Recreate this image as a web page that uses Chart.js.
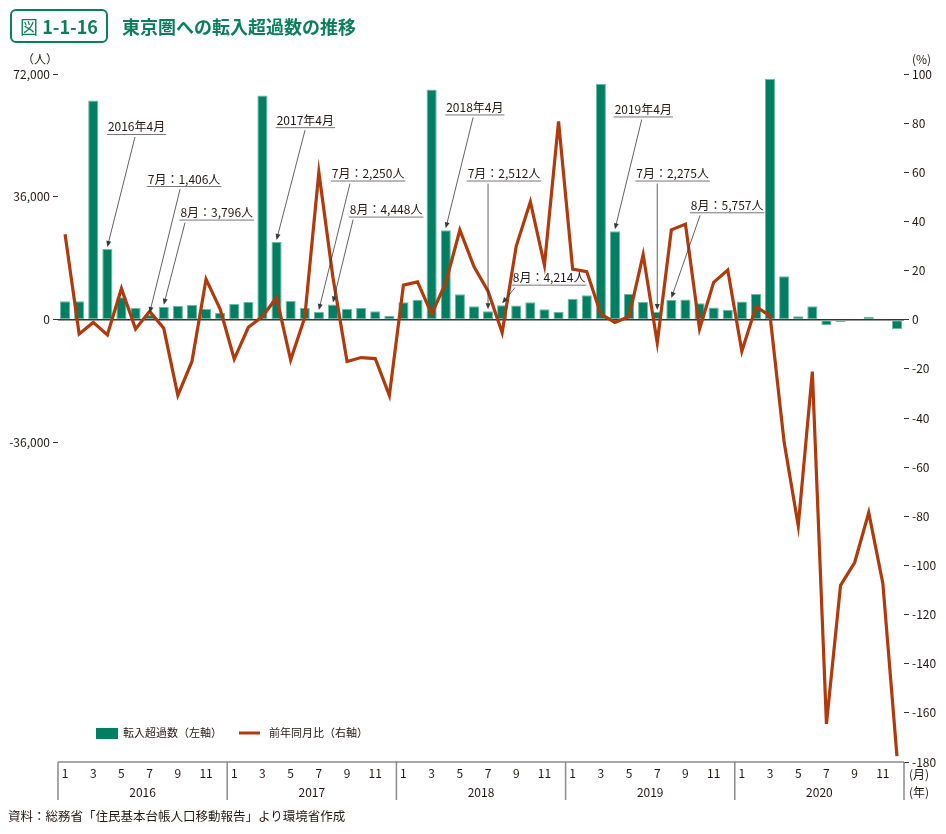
<!DOCTYPE html>
<html lang="ja">
<head>
<meta charset="utf-8">
<script src="https://cdn.jsdelivr.net/npm/chart.js@4.4.1/dist/chart.umd.min.js"></script>
<style>
	body { margin: 0; background: #fff; font-family: 'Noto Sans CJK JP', 'Noto Sans', sans-serif; }
	#wrap { position: relative; width: 946px; height: 834px; }
	#chart { position: absolute; left: 0; top: 0; }
	.figno {
		position: absolute; left: 10px; top: 9px; width: 94px; height: 30px;
		border: 2px solid #0b7f5c; border-radius: 6px; color: #0b7f5c;
		font-size: 18px; font-weight: bold; line-height: 30px; text-align: center;
	}
	.figno span { font-weight: normal; }
	.title {
		position: absolute; left: 122px; top: 11px; color: #0b7f5c;
		font-size: 18px; font-weight: bold; line-height: 30px;
	}
	.note { position: absolute; font-size: 12px; color: #231815; }
</style>
</head>
<body>
<div id="wrap">
	<canvas id="chart" width="946" height="834"></canvas>
	<div class="figno"><span>図</span> 1-1-16</div>
	<div class="title">東京圏への転入超過数の推移</div>
	<div class="note" style="left:22px; top:50px;">（人）</div>
	<div class="note" style="left:912px; top:50px;">(%)</div>
	<div class="note" style="left:8px; top:806px; font-size:12.5px;">資料：総務省「住民基本台帳人口移動報告」より環境省作成</div>
</div>
<script>
// categories
const years = ['2016', '2017', '2018', '2019', '2020']
const months = [1, 2, 3, 4, 5, 6, 7, 8, 9, 10, 11, 12]
const categories = years.flatMap((y) => months.map((m) => `${y}/${m}`))

// 転入超過数 (人), left axis
const netInflow2016 = [5380, 5380, 64250, 20730, 6550, 3420, 1406, 3796, 4100, 4300, 3230, 2050]
const netInflow2017 = [4600, 5180, 65720, 22790, 5480, 3520, 2250, 4448, 3130, 3420, 2450, 1170]
const netInflow2018 = [5090, 5870, 67480, 26200, 7430, 3910, 2512, 4214, 4200, 5090, 3030, 2350]
const netInflow2019 = [6160, 7140, 69150, 25900, 7530, 5200, 2275, 5757, 5900, 4860, 3590, 2900]
const netInflow2020 = [5330, 7530, 70500, 12740, 1040, 3940, -1620, -700, -100, 900, -150, -2780]

// 前年同月比 (%), right axis
const yoy2016 = [34.8, -5.8, -1.1, -6.2, 12.7, -3.8, 3.4, -3.5, -30.8, -17.0, 16.5, 4.3]
const yoy2017 = [-16.0, -3.1, 1.3, 9.0, -16.4, 0.9, 60.0, 17.2, -17.0, -15.4, -15.8, -30.8]
const yoy2018 = [14.1, 15.4, 2.3, 15.1, 36.5, 21.6, 11.6, -5.3, 30.0, 48.0, 22.2, 80.7]
const yoy2019 = [20.6, 19.6, 2.3, -1.1, 1.3, 26.5, -9.4, 36.6, 38.9, -3.8, 15.2, 20.2]
const yoy2020 = [-12.8, 5.3, 1.6, -49.9, -83.9, -21.1, -164.5, -108.1, -98.8, -78.5, -107.3, -177.6]

// tick labels
const leftTicks = [72000, 36000, 0, -36000]
const rightTicks = [100, 80, 60, 40, 20, 0, -20, -40, -60, -80, -100, -120, -140, -160, -180]
const monthTicks = [1, 3, 5, 7, 9, 11]

// callouts: target month index, label centre (month index), underline level (人), arrow start (month index)
const calloutText = ['2016年4月', '7月：1,406人', '8月：3,796人', '2017年4月', '7月：2,250人', '8月：4,448人',
	'2018年4月', '7月：2,512人', '8月：4,214人', '2019年4月', '7月：2,275人', '8月：5,757人']
const calloutTarget = [3, 6, 7, 15, 18, 19, 27, 30, 31, 39, 42, 43]
const calloutLabelX = [5.07, 8.44, 10.76, 17.04, 21.49, 22.77, 29.06, 31.13, 34.33, 41.01, 43.09, 46.96]
const calloutLabelY = [54420, 39170, 29340, 56420, 40780, 30220, 60150, 40780, 10270, 59560, 40780, 31480]
const calloutStartX = [4.96, 8.16, 8.51, 17.02, 20.21, 20.43, 28.94, 30.0, 31.91, 40.9, 42.0, 45.04]

const netInflow = [...netInflow2016, ...netInflow2017, ...netInflow2018, ...netInflow2019, ...netInflow2020]
const yoy = [...yoy2016, ...yoy2017, ...yoy2018, ...yoy2019, ...yoy2020]

const GREEN = '#007f62'
const RUST = '#b03a0c'
const INK = '#231815'
const FONT = "'Noto Sans CJK JP', 'Noto Sans', sans-serif"

Chart.defaults.font.family = FONT
Chart.defaults.font.size = 12
Chart.defaults.color = INK

const zeroLine = {
	id: 'zeroLine',
	beforeDatasetsDraw(chart) {
		const { ctx, chartArea } = chart
		const y0 = chart.scales.y.getPixelForValue(0)
		ctx.save()
		ctx.strokeStyle = '#333'
		ctx.lineWidth = 1.5
		ctx.beginPath()
		ctx.moveTo(chartArea.left, y0)
		ctx.lineTo(chartArea.right, y0)
		ctx.stroke()
		ctx.restore()
	}
}

const monthAxis = {
	id: 'monthAxis',
	afterDraw(chart) {
		const { ctx, chartArea } = chart
		const x = chart.scales.x
		const top = chartArea.bottom
		const bottom = top + 38
		const step = (chartArea.right - chartArea.left) / categories.length
		ctx.save()
		ctx.strokeStyle = '#8a8a8a'
		ctx.lineWidth = 1.5
		ctx.beginPath()
		ctx.moveTo(chartArea.left, top)
		ctx.lineTo(chartArea.right, top)
		for (let k = 0; k <= years.length; k++) {
			const xx = chartArea.left + k * 12 * step
			ctx.moveTo(xx, top)
			ctx.lineTo(xx, bottom)
		}
		ctx.stroke()
		ctx.fillStyle = INK
		ctx.font = `12px ${FONT}`
		ctx.textAlign = 'center'
		ctx.textBaseline = 'middle'
		years.forEach((yr, k) => {
			monthTicks.forEach((m) => {
				ctx.fillText(String(m), x.getPixelForValue(k * 12 + m - 1), top + 11)
			})
			ctx.fillText(yr, x.getPixelForValue(k * 12 + 5.5), top + 30)
		})
		ctx.textAlign = 'left'
		ctx.fillText('(月)', chartArea.right + 5, top + 12)
		ctx.fillText('(年)', chartArea.right + 5, top + 30)
		ctx.restore()
	}
}

const legendBox = {
	id: 'legendBox',
	afterDraw(chart) {
		const { ctx, chartArea } = chart
		const y = chartArea.bottom - 29
		let x = chartArea.left + 38
		ctx.save()
		ctx.font = `11px ${FONT}`
		ctx.textBaseline = 'middle'
		ctx.fillStyle = GREEN
		ctx.fillRect(x, y - 5, 22, 11)
		ctx.fillStyle = INK
		const t1 = '転入超過数（左軸）'
		ctx.fillText(t1, x + 27, y)
		x = x + 27 + ctx.measureText(t1).width + 17
		ctx.strokeStyle = RUST
		ctx.lineWidth = 3
		ctx.beginPath()
		ctx.moveTo(x, y)
		ctx.lineTo(x + 21, y)
		ctx.stroke()
		ctx.fillText('前年同月比（右軸）', x + 30, y)
		ctx.restore()
	}
}

const callouts = {
	id: 'callouts',
	afterDatasetsDraw(chart) {
		const { ctx } = chart
		const xs = chart.scales.x
		const ys = chart.scales.y
		ctx.save()
		ctx.font = `12px ${FONT}`
		ctx.textAlign = 'center'
		ctx.textBaseline = 'alphabetic'
		calloutText.forEach((txt, i) => {
			const lx = xs.getPixelForValue(calloutLabelX[i])
			const ly = ys.getPixelForValue(calloutLabelY[i])
			const w = ctx.measureText(txt).width
			ctx.fillStyle = INK
			ctx.fillText(txt, lx, ly - 2.5)
			ctx.strokeStyle = '#777'
			ctx.lineWidth = 1
			ctx.beginPath()
			ctx.moveTo(lx - w / 2 - 1, ly + 0.5)
			ctx.lineTo(lx + w / 2 + 1, ly + 0.5)
			ctx.stroke()

			const sx = xs.getPixelForValue(calloutStartX[i])
			const sy = ly + 3
			const tx = xs.getPixelForValue(calloutTarget[i])
			const ty = ys.getPixelForValue(netInflow[calloutTarget[i]]) - 2
			const ang = Math.atan2(ty - sy, tx - sx)
			ctx.strokeStyle = '#3a3a3a'
			ctx.lineWidth = 0.8
			ctx.beginPath()
			ctx.moveTo(sx, sy)
			ctx.lineTo(tx - 4 * Math.cos(ang), ty - 4 * Math.sin(ang))
			ctx.stroke()
			ctx.fillStyle = '#3a3a3a'
			ctx.beginPath()
			ctx.moveTo(tx, ty)
			ctx.lineTo(tx - 6 * Math.cos(ang) + 2.5 * Math.sin(ang), ty - 6 * Math.sin(ang) - 2.5 * Math.cos(ang))
			ctx.lineTo(tx - 6 * Math.cos(ang) - 2.5 * Math.sin(ang), ty - 6 * Math.sin(ang) + 2.5 * Math.cos(ang))
			ctx.closePath()
			ctx.fill()
		})
		ctx.restore()
	}
}

new Chart(document.getElementById('chart'), {
	data: {
		labels: categories,
		datasets: [
			{
				type: 'line',
				label: '前年同月比（右軸）',
				data: yoy,
				yAxisID: 'y1',
				borderColor: RUST,
				borderWidth: 3.2,
				pointRadius: 0,
				tension: 0,
				borderJoinStyle: 'miter',
				order: 0
			},
			{
				type: 'bar',
				label: '転入超過数（左軸）',
				data: netInflow,
				yAxisID: 'y',
				backgroundColor: GREEN,
				borderColor: '#6fbaa2',
				borderWidth: 1,
				borderSkipped: false,
				categoryPercentage: 1,
				barPercentage: 0.72,
				order: 1
			}
		]
	},
	options: {
		responsive: false,
		animation: false,
		layout: { padding: { top: 74, bottom: 72, left: 0, right: 0 } },
		plugins: { legend: { display: false }, tooltip: { enabled: false } },
		scales: {
			x: { display: false },
			y: {
				position: 'left',
				min: -129600,
				max: 72000,
				afterBuildTicks: (scale) => { scale.ticks = leftTicks.map((v) => ({ value: v })) },
				afterFit: (scale) => { scale.width = 58 },
				ticks: {
					color: INK,
					padding: 3,
					font: { size: 12 },
					callback: (v) => v.toLocaleString('en-US')
				},
				grid: { drawOnChartArea: false, drawTicks: true, tickLength: 5, tickColor: '#333' },
				border: { display: false }
			},
			y1: {
				position: 'right',
				min: -180,
				max: 100,
				afterBuildTicks: (scale) => { scale.ticks = rightTicks.map((v) => ({ value: v })) },
				afterFit: (scale) => { scale.width = 42 },
				ticks: { color: INK, padding: 3, font: { size: 12 } },
				grid: { drawOnChartArea: false, drawTicks: true, tickLength: 5, tickColor: '#333' },
				border: { display: false }
			}
		}
	},
	plugins: [zeroLine, monthAxis, legendBox, callouts]
})
</script>
</body>
</html>
